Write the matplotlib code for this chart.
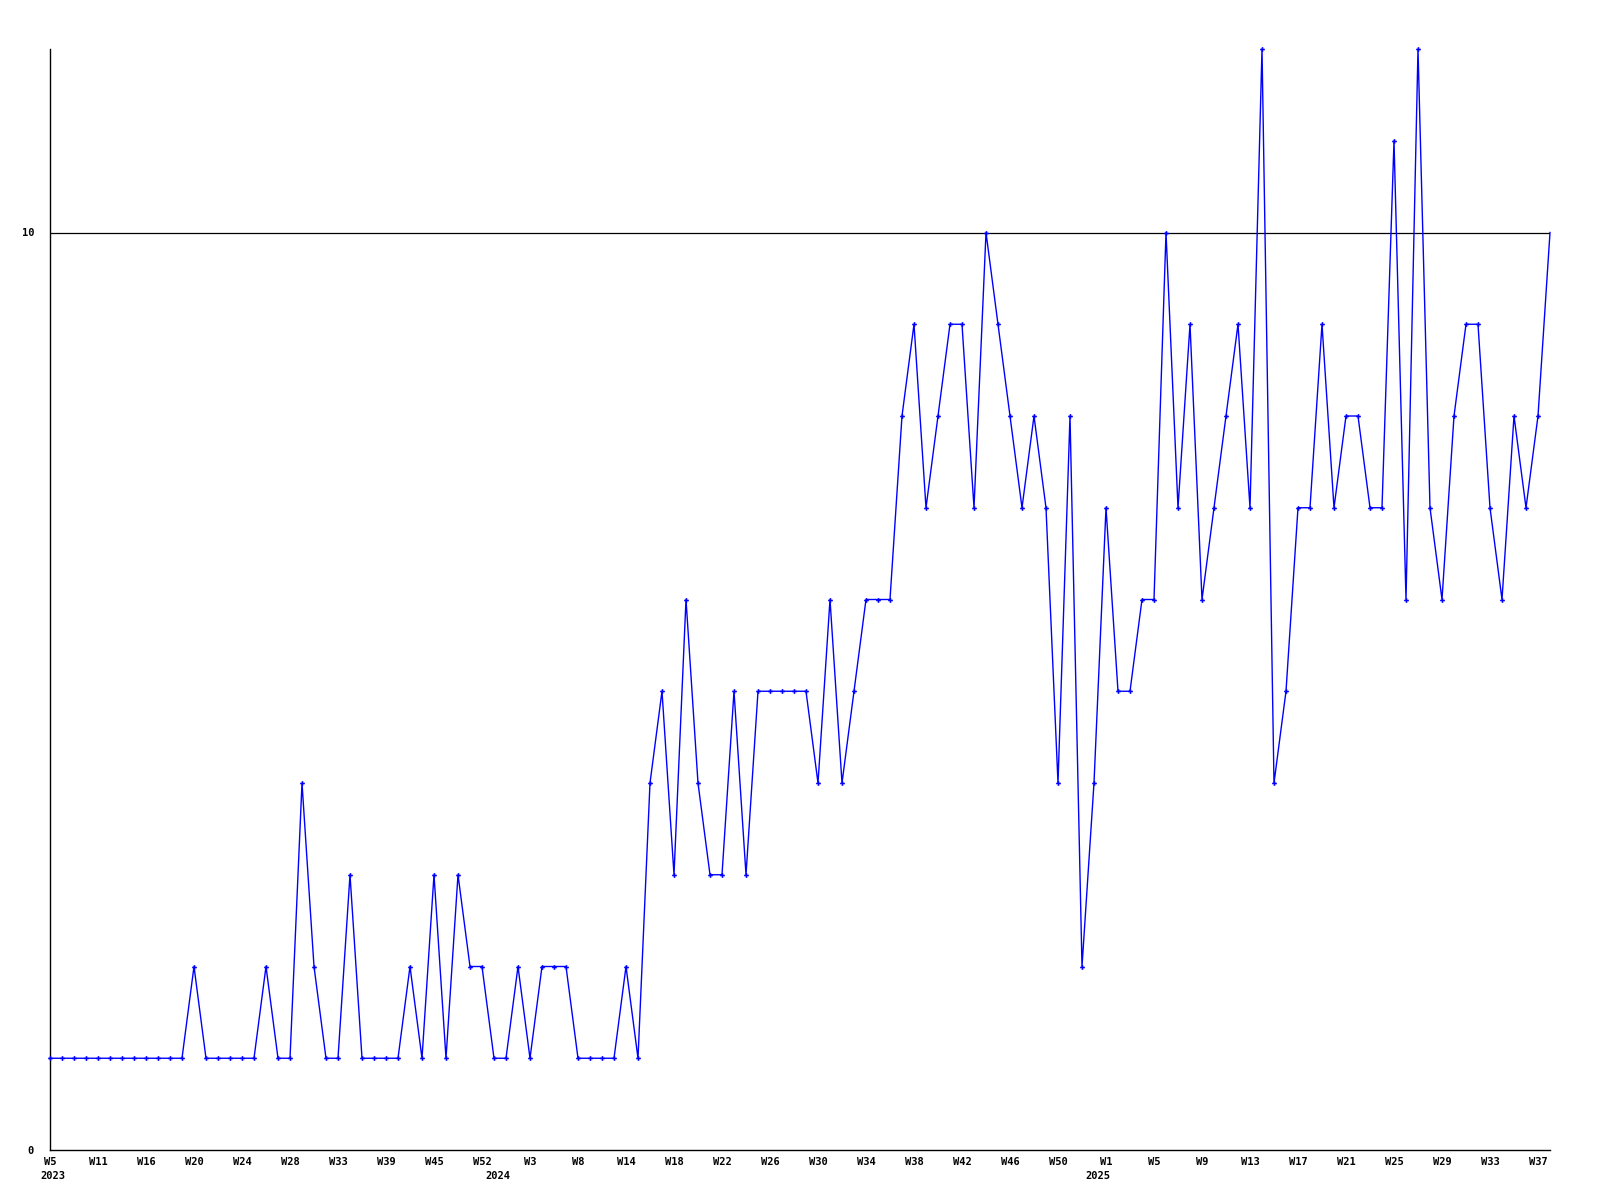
import numpy as np
import matplotlib
matplotlib.use("Agg")
import matplotlib.pyplot as plt

# ---- data -------------------------------------------------------------
values = [
    1, 1, 1, 1, 1, 1, 1, 1, 1, 1, 1, 1,      # 0-11
    2, 1, 1, 1, 1, 1, 2, 1, 1, 4,            # 12-21
    2, 1, 1, 3, 1, 1, 1, 1, 2, 1,            # 22-31
    3, 1, 3, 2, 2, 1, 1, 2, 1, 2,            # 32-41
    2, 2, 1, 1, 1, 1, 2, 1, 4, 5,            # 42-51
    3, 6, 4, 3, 3, 5, 3, 5, 5, 5,            # 52-61
    5, 5, 4, 6, 4, 5, 6, 6, 6, 8,            # 62-71
    9, 7, 8, 9, 9, 7, 10, 9, 8, 7,           # 72-81
    8, 7, 4, 8, 2, 4, 7, 5, 5, 6,            # 82-91
    6, 10, 7, 9, 6, 7, 8, 9, 7, 12,          # 92-101
    4, 5, 7, 7, 9, 7, 8, 8, 7, 7,            # 102-111
    11, 6, 12, 7, 6, 8, 9, 9, 7, 6,          # 112-121
    8, 7, 8, 10,                             # 122-125
]
week_labels = ["W5", "W11", "W16", "W20", "W24", "W28", "W33", "W39", "W45",
               "W52", "W3", "W8", "W14", "W18", "W22", "W26", "W30", "W34",
               "W38", "W42", "W46", "W50", "W1", "W5", "W9", "W13", "W17",
               "W21", "W25", "W29", "W33", "W37"]
year_labels = ["2023", "2024", "2025"]
y_ticks = [0, 10]

# ---- layout -----------------------------------------------------------
label_step = 4
year_pos = [0.2, 37.3, 87.3]

x = np.arange(len(values))

fig = plt.figure(figsize=(16, 12), dpi=100)
fig.patch.set_facecolor("white")
ax = fig.add_axes([50 / 1600, 1 - 1150 / 1200, 1500 / 1600, (1150 - 49) / 1200])

ax.axhline(10, color="black", lw=0.9, zorder=1)

ax.plot(x, values, color="#0000ff", lw=1.0, marker="P", markersize=3.4,
        markeredgewidth=0, markevery=list(range(len(values) - 1)), zorder=3,
        clip_on=False)

ax.set_xlim(0, len(values) - 1)
ax.set_ylim(0, 12)

for s in ["top", "right"]:
    ax.spines[s].set_visible(False)
for s in ["left", "bottom"]:
    ax.spines[s].set_color("black")
    ax.spines[s].set_linewidth(1.0)

font = dict(family="DejaVu Sans Mono", weight="bold", size=7.5)

ax.set_yticks(y_ticks)
ax.set_yticklabels([str(v) for v in y_ticks], **font)
ax.tick_params(axis="y", length=0, pad=11.5)

tick_pos = x[::label_step][:len(week_labels)]
ax.set_xticks(tick_pos)
ax.set_xticklabels(week_labels, **font)
ax.tick_params(axis="x", length=0, pad=5)

for lab, pos in zip(year_labels, year_pos):
    ax.text(pos, -0.0195, lab, transform=ax.get_xaxis_transform(),
            ha="center", va="top", **font)

fig.savefig("out.png", dpi=100, facecolor="white")
